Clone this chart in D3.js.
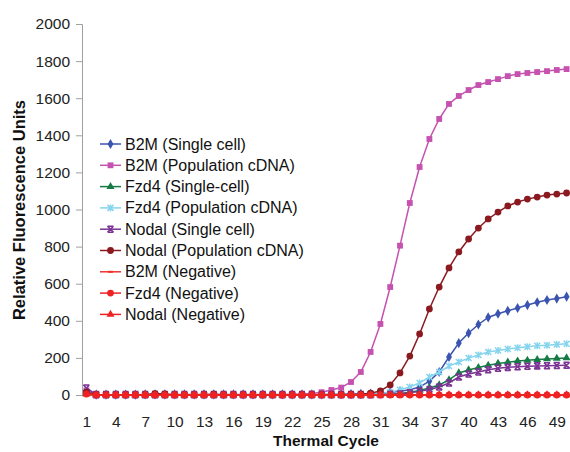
<!DOCTYPE html>
<html>
<head>
<meta charset="utf-8">
<script src="https://cdn.jsdelivr.net/npm/d3@7"></script>
<style>
  body { margin: 0; background: #fff; }
  svg { display: block; font-family: "Liberation Sans", Arial, sans-serif; }
</style>
</head>
<body>
<div id="chart"></div>
<script>
// cycles 1..50
var cycles = [1,2,3,4,5,6,7,8,9,10,11,12,13,14,15,16,17,18,19,20,21,22,23,24,25,
              26,27,28,29,30,31,32,33,34,35,36,37,38,39,40,41,42,43,44,45,46,47,48,49,50];
var xTicks = [1,4,7,10,13,16,19,22,25,28,31,34,37,40,43,46,49];
var yTicks = [0,200,400,600,800,1000,1200,1400,1600,1800,2000];

var b2mSingle = [15,2,2,2,2,2,3,3,3,3,3,3,3,3,3,3,3,3,3,3,3,3,3,3,3,
                 4,4,5,6,8,10,14,20,28,43,75,124,205,280,334,380,418,438,454,469,485,500,512,520,530];
var b2mPop = [25,2,2,2,2,2,2,2,2,2,2,2,2,2,2,2,2,2,2,2,2,3,5,8,15,
              27,40,70,124,232,383,582,805,1035,1229,1380,1488,1569,1612,1644,1671,1687,1703,1719,1730,1736,1741,1746,1752,1757];
var fzd4Single = [10,1,1,1,1,1,1,1,1,1,1,1,1,1,1,1,1,1,1,1,1,1,1,1,1,
                  1,1,1,1,1,2,4,8,15,25,38,54,81,119,135,148,160,170,177,183,187,191,194,197,200];
var fzd4Pop = [12,1,1,1,1,1,1,1,1,1,1,1,1,1,1,1,1,1,1,1,1,1,1,1,1,
               1,1,1,2,4,8,15,28,43,65,97,124,156,178,199,216,232,240,248,255,260,265,268,272,276];
var nodalSingle = [38,2,2,2,2,2,2,2,2,2,2,2,2,2,2,2,2,2,2,2,2,2,2,2,2,
                   2,2,2,2,2,3,4,5,12,20,30,43,65,97,113,124,136,144,149,152,155,157,158,159,160];
var nodalPop = [15,2,2,2,2,2,2,8,6,2,2,2,2,4,2,2,2,2,2,2,2,2,2,2,2,
                2,2,3,4,10,22,54,119,210,329,464,582,685,771,841,900,949,986,1019,1040,1056,1067,1078,1083,1089];
var b2mNeg = [5,0,0,0,0,0,0,0,0,0,0,0,0,0,0,0,0,0,0,0,0,0,0,0,0,
              0,0,0,0,0,0,0,0,0,0,0,0,0,0,0,0,0,0,0,0,0,0,0,0,0];
var fzd4Neg = [5,0,0,0,0,0,0,0,0,0,0,0,0,0,0,0,0,0,0,0,0,0,0,0,0,
               0,0,0,0,0,0,0,0,0,0,0,0,0,0,0,0,0,0,0,0,0,0,0,0,0];
var nodalNeg = [5,0,0,0,0,0,0,0,0,0,0,0,0,0,0,0,0,0,0,0,0,0,0,0,0,
                0,0,0,0,0,0,0,0,0,0,0,0,0,0,0,0,0,0,0,0,0,0,0,0,0];

var seriesNames = ["B2M (Single cell)", "B2M (Population cDNA)", "Fzd4 (Single-cell)",
                   "Fzd4 (Population cDNA)", "Nodal (Single cell)", "Nodal (Population cDNA)",
                   "B2M (Negative)", "Fzd4 (Negative)", "Nodal (Negative)"];
var seriesValues = [b2mSingle, b2mPop, fzd4Single, fzd4Pop, nodalSingle, nodalPop, b2mNeg, fzd4Neg, nodalNeg];
var seriesColors = ["#3b54b0", "#c652b0", "#167a45", "#86d4ee", "#7b3394", "#8a1a20", "#f03030", "#ee2222", "#ee2222"];
var seriesMarkers = ["diamond", "square", "triangle", "star", "xbar", "circle", "dash", "circle", "triangle"];

var width = 570, height = 452;
var svg = d3.select("#chart").append("svg")
    .attr("width", width)
    .attr("height", height);

var x = d3.scaleLinear().domain([0.5, 50.5]).range([81.5, 571.5]);
var y = d3.scaleLinear().domain([0, 2000]).range([395, 24]);

//axes
var yAxis = svg.append("g")
    .attr("transform", "translate(82,0)")
    .call(d3.axisLeft(y).tickValues(yTicks).tickSize(6).tickPadding(6).tickFormat(d3.format("d")));
yAxis.select(".domain").attr("stroke", "#a0a0a0");
yAxis.selectAll(".tick line").attr("stroke", "#a0a0a0");
yAxis.selectAll("text").attr("font-size", "15.5px").attr("fill", "#222")
    .attr("font-family", "Liberation Sans, Arial, sans-serif");

var xAxis = svg.append("g")
    .attr("transform", "translate(0,395)")
    .call(d3.axisBottom(x).tickValues(xTicks).tickSize(0).tickPadding(21).tickFormat(d3.format("d")));
xAxis.select(".domain").attr("stroke", "#a0a0a0");
xAxis.selectAll("text").attr("font-size", "15.5px").attr("fill", "#222")
    .attr("font-family", "Liberation Sans, Arial, sans-serif");

svg.append("text")
    .attr("transform", "translate(25,210) rotate(-90)")
    .attr("text-anchor", "middle")
    .attr("font-size", "16.5px")
    .attr("font-weight", "bold")
    .attr("fill", "#111")
    .text("Relative Fluorescence Units");

svg.append("text")
    .attr("x", 326)
    .attr("y", 446)
    .attr("text-anchor", "middle")
    .attr("font-size", "15.5px")
    .attr("font-weight", "bold")
    .attr("fill", "#111")
    .text("Thermal Cycle");

//marker drawing
function drawMarker(g, type, color) {
    switch (type) {
        case "diamond":
            g.append("path").attr("d", d3.symbol(d3.symbolDiamond, 30)()).attr("fill", color);
            break;
        case "square":
            g.append("path").attr("d", d3.symbol(d3.symbolSquare, 34)()).attr("fill", color);
            break;
        case "triangle":
            g.append("path").attr("d", d3.symbol(d3.symbolTriangle, 28)()).attr("fill", color);
            break;
        case "circle":
            g.append("path").attr("d", d3.symbol(d3.symbolCircle, 36)()).attr("fill", color);
            break;
        case "star":
            g.append("path").attr("d", "M-3,-3L3,3M-3,3L3,-3M0,-3.5L0,3.5")
                .attr("stroke", color).attr("stroke-width", 1.5).attr("fill", "none");
            break;
        case "xbar":
            g.append("path").attr("d", "M-3,-3L3,3M-3,3L3,-3M-3,-3L3,-3M-3,3L3,3")
                .attr("stroke", color).attr("stroke-width", 1.6).attr("fill", "none");
            break;
        case "dash":
            g.append("path").attr("d", "M-2.5,0L2.5,0")
                .attr("stroke", color).attr("stroke-width", 2).attr("fill", "none");
            break;
    }
}

var line = d3.line()
    .x(function (d, i) { return x(cycles[i]); })
    .y(function (d) { return y(d); });

seriesValues.forEach(function (vals, s) {
    var g = svg.append("g").attr("class", "series");
    g.append("path")
        .attr("d", line(vals))
        .attr("fill", "none")
        .attr("stroke", seriesColors[s])
        .attr("stroke-width", 1.5);
    vals.forEach(function (v, i) {
        var m = g.append("g").attr("transform", "translate(" + x(cycles[i]) + "," + y(v) + ")");
        drawMarker(m, seriesMarkers[s], seriesColors[s]);
    });
});

//legend
var legend = svg.append("g").attr("transform", "translate(100,144)");
seriesNames.forEach(function (name, s) {
    var row = legend.append("g").attr("transform", "translate(0," + (s * 21.3) + ")");
    row.append("line")
        .attr("x1", 0).attr("x2", 21)
        .attr("y1", 0).attr("y2", 0)
        .attr("stroke", seriesColors[s])
        .attr("stroke-width", 1.5);
    var m = row.append("g").attr("transform", "translate(10.5,0)");
    drawMarker(m, seriesMarkers[s], seriesColors[s]);
    row.append("text")
        .attr("x", 25)
        .attr("y", 5.5)
        .attr("font-size", "16px")
        .attr("fill", "#111")
        .text(name);
});
</script>
</body>
</html>
